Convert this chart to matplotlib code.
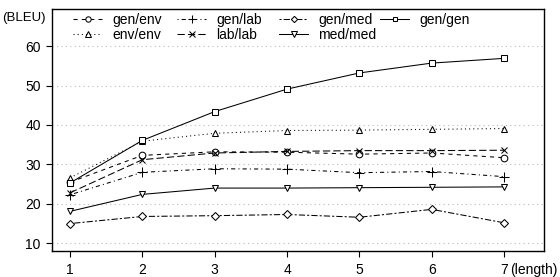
import matplotlib
matplotlib.use('Agg')
import matplotlib.pyplot as plt
from matplotlib.legend import Legend

plt.rcParams['font.family'] = ['Liberation Sans', 'DejaVu Sans']
plt.rcParams['font.size'] = 10

# data
lengths = [1, 2, 3, 4, 5, 6, 7]
gen_env = [25.5, 32.3, 33.2, 33.1, 32.6, 32.9, 31.7]
gen_lab = [22.3, 28.0, 28.9, 28.8, 27.9, 28.2, 26.9]
gen_med = [15.0, 16.8, 17.0, 17.3, 16.6, 18.6, 15.2]
gen_gen = [25.3, 36.1, 43.4, 49.1, 53.2, 55.7, 56.9]
env_env = [26.6, 35.9, 37.9, 38.6, 38.7, 38.9, 39.1]
lab_lab = [22.8, 31.2, 32.9, 33.3, 33.5, 33.5, 33.6]
med_med = [18.1, 22.4, 24.0, 24.0, 24.1, 24.2, 24.3]
y_ticks = [10, 20, 30, 40, 50, 60]

fig = plt.figure(figsize=(5.6, 2.77), dpi=100)
ax = fig.add_axes([0.092, 0.094, 0.8795, 0.8718])

mk = dict(color='black', lw=0.75, markersize=4.8, markerfacecolor='white',
          markeredgecolor='black', markeredgewidth=0.75)

l_ge, = ax.plot(lengths, gen_env, marker='o', linestyle=(0, (4, 4)), label='gen/env', **mk)
l_ee, = ax.plot(lengths, env_env, marker='^', linestyle=(0, (1, 3)), label='env/env', **mk)
l_gl, = ax.plot(lengths, gen_lab, marker='+', linestyle=(0, (1, 3, 4, 3)), label='gen/lab',
                **{**mk, 'markersize': 6.5})
l_ll, = ax.plot(lengths, lab_lab, marker='x', linestyle=(0, (7, 3)), label='lab/lab',
                **{**mk, 'markersize': 5})
l_gm, = ax.plot(lengths, gen_med, marker='D', linestyle=(0, (2, 2, 6, 2)), label='gen/med',
                **{**mk, 'markersize': 4})
l_mm, = ax.plot(lengths, med_med, marker='v', linestyle='-', label='med/med', **mk)
l_gg, = ax.plot(lengths, gen_gen, marker='s', linestyle='-', label='gen/gen',
                **{**mk, 'markersize': 4.3})

ax.set_xlim(0.744, 7.553)
ax.set_ylim(8.05, 69.3)
ax.set_xticks(lengths)
ax.set_yticks(y_ticks)
ax.grid(axis='y', linestyle=(0, (1, 3)), color='#bbbbbb', lw=0.8)
ax.tick_params(direction='out', length=4.3, width=0.8, pad=3.5, labelsize=10)
ax.tick_params(axis='x', pad=4.2)
for s in ax.spines.values():
    s.set_linewidth(1.0)

ax.text(-0.012, 0.965, '(BLEU)', transform=ax.transAxes, ha='right', va='center', fontsize=9.5)
ax.annotate('(length)', xy=(7, 0), xycoords=('data', 'axes fraction'),
            xytext=(4.3, -8.5), textcoords='offset points', ha='left', va='top',
            fontsize=10)

# R-style legend: equal-width columns, so one legend per column
col_x = [73, 177, 279, 380]
columns = [[l_ge, l_ee], [l_gl, l_ll], [l_gm, l_mm], [l_gg]]
for cx, handles in zip(col_x, columns):
    leg = Legend(ax, handles, [h.get_label() for h in handles], loc='upper left',
                 bbox_to_anchor=(cx / 560, 1 - 13 / 277),
                 bbox_transform=fig.transFigure, frameon=False,
                 borderpad=0, borderaxespad=0, handlelength=2.1,
                 handletextpad=0.7, labelspacing=0.05, markerscale=0.8,
                 fontsize=10)
    ax.add_artist(leg)

fig.savefig('out.png', dpi=100)
